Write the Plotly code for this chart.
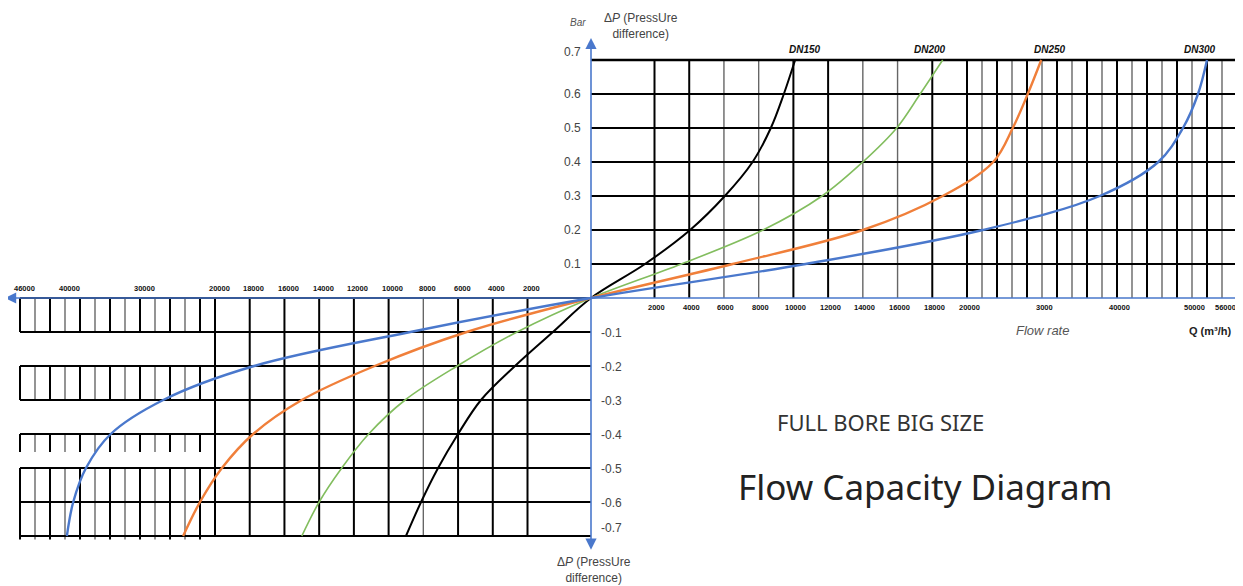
import numpy as np
import plotly.graph_objects as go

# ---------------- data ----------------
dp_levels = [0, 0.1, 0.2, 0.3, 0.4, 0.5, 0.6, 0.7]

series_names = ["DN150", "DN200", "DN250", "DN300"]
# flow rate Q (m3/h) at each pressure level, positive quadrant
dn150_q_right = [0, 1700, 4050, 6050, 7650, 8700, 9450, 10100]
dn200_q_right = [0, 3550, 8250, 11650, 14000, 15950, 17300, 18600]
dn250_q_right = [0, 6500, 14000, 18600, 23500, 26100, 28100, 29900]
dn300_q_right = [0, 10700, 22100, 37700, 45500, 48800, 50800, 52000]
# flow rate Q (m3/h) at each (negative) pressure level, mirrored quadrant
dn150_q_left = [0, 1200, 2720, 4680, 6000, 7150, 8130, 9000]
dn200_q_left = [0, 2600, 6050, 9050, 11150, 12700, 14000, 15000]
dn250_q_left = [0, 5500, 10800, 15000, 17800, 19600, 22000, 24250]
dn300_q_left = [0, 8750, 17750, 26900, 33900, 37200, 38900, 39750]

right_tick_values = [2000, 4000, 6000, 8000, 10000, 12000, 14000, 16000, 18000,
                     20000, 30000, 40000, 50000, 56000]
right_tick_text = ["2000", "4000", "6000", "8000", "10000", "12000", "14000", "16000",
                   "18000", "20000", "3000", "40000", "50000", "56000"]
left_tick_values = [2000, 4000, 6000, 8000, 10000, 12000, 14000, 16000, 18000,
                    20000, 30000, 40000, 46000]
left_tick_text = ["2000", "4000", "6000", "8000", "10000", "12000", "14000", "16000",
                  "18000", "20000", "30000", "40000", "46000"]
dp_tick_pos = [0.1, 0.2, 0.3, 0.4, 0.5, 0.6, 0.7]
dp_tick_pos_text = ["0.1", "0.2", "0.3", "0.4", "0.5", "0.6", "0.7"]
dp_tick_neg = [-0.1, -0.2, -0.3, -0.4, -0.5, -0.6, -0.7]
dp_tick_neg_text = ["-0.1", "-0.2", "-0.3", "-0.4", "-0.5", "-0.6", "-0.7"]

q_max_right = 56000
q_max_left = 46000
grid_step = 2000

# ---------------- piecewise flow-rate scale of the diagram ----------------
Q_BREAKS = [0, 2000, 20000, 60000]
POS_BREAKS = [0, 63.5, 376, 676]


def qpos(q):
    q = np.asarray(q, dtype=float)
    return np.sign(q) * np.interp(np.abs(q), Q_BREAKS, POS_BREAKS)


BLUE = "#4A78CC"
ORANGE = "#F07F3A"
GREEN = "#82BD5E"
BLACK = "#000000"
GRAY = "#666666"

fig = go.Figure()


def seg_trace(segs, color, width):
    xs, ys = [], []
    for (x0, y0, x1, y1) in segs:
        xs += [x0, x1, None]
        ys += [y0, y1, None]
    return go.Scatter(x=xs, y=ys, mode="lines", line=dict(color=color, width=width),
                      hoverinfo="skip", showlegend=False)


thick, thin = [], []
# right quadrant grid
for dp in dp_levels[1:]:
    thick.append((qpos(0), dp, qpos(q_max_right), dp))
for q in range(grid_step, q_max_right + 1, grid_step):
    k = q // grid_step
    if q <= 20000:
        is_thick = ((k - 1) // 2) % 2 == 0
    else:
        is_thick = (k % 2 == 0) or q == q_max_right
    (thick if is_thick else thin).append((qpos(q), 0, qpos(q), dp_levels[-1]))
# left quadrant grid
for dp in dp_levels:
    thick.append((qpos(-q_max_left), -dp, qpos(0), -dp))
far_segments = [(0, -0.1), (-0.2, -0.3), (-0.4, -0.453), (-0.5, -0.71)]
for q in range(grid_step, q_max_left + 1, grid_step):
    k = q // grid_step
    if q <= 20000:
        (thin if q == 8000 else thick).append((qpos(-q), 0, qpos(-q), -dp_levels[-1]))
    else:
        target = thick if k % 2 == 1 else thin
        for (a, b) in far_segments:
            target.append((qpos(-q), a, qpos(-q), b))

fig.add_trace(seg_trace(thin, GRAY, 1.4))
fig.add_trace(seg_trace(thick, BLACK, 2))
fig.add_trace(seg_trace([(qpos(0), 0.7, qpos(q_max_right), 0.7)], BLACK, 2.6))

# ---------------- curves ----------------
curve_defs = [
    (dn150_q_right, dn150_q_left, BLACK, 2.0),
    (dn200_q_right, dn200_q_left, GREEN, 1.6),
    (dn250_q_right, dn250_q_left, ORANGE, 2.4),
    (dn300_q_right, dn300_q_left, BLUE, 2.4),
]
for name, (qr, ql, col, w) in zip(series_names, curve_defs):
    x = list(qpos(-np.array(ql[::-1]))) + list(qpos(np.array(qr[1:])))
    y = [-d for d in dp_levels[::-1]] + dp_levels[1:]
    fig.add_trace(go.Scatter(x=x, y=y, mode="lines", name=name,
                             line=dict(color=col, width=w, shape="spline", smoothing=1.0),
                             hoverinfo="skip", showlegend=False))

# ---------------- annotations ----------------
ann = []
# axes with arrows
ann.append(dict(x=float(qpos(-48000)), y=0, ax=float(qpos(q_max_right)), ay=0,
                xref="x", yref="y", axref="x", ayref="y", text="", showarrow=True,
                arrowhead=2, arrowsize=1.4, arrowwidth=1.6, arrowcolor=BLUE))
ann.append(dict(x=0, y=0.765, ax=0, ay=-0.745, xref="x", yref="y", axref="x", ayref="y",
                text="", showarrow=True, arrowhead=2, startarrowhead=2, arrowside="end+start",
                arrowsize=1.4, startarrowsize=1.4, arrowwidth=1.6, arrowcolor=BLUE))

tick_font = dict(family="Liberation Sans, Arial", size=7.5, color="#111111")
for v, t in zip(right_tick_values, right_tick_text):
    last = v == right_tick_values[-1]
    ann.append(dict(x=float(qpos(v)), y=0, text="<b>%s</b>" % t, showarrow=False,
                    xanchor="right" if last else "center", yanchor="top", yshift=-3,
                    xshift=1 if last else 2, font=tick_font))
for v, t in zip(left_tick_values, left_tick_text):
    ann.append(dict(x=float(qpos(-v)), y=0, text="<b>%s</b>" % t, showarrow=False,
                    xanchor="center", yanchor="bottom", yshift=3, xshift=4, font=tick_font))

dp_font = dict(family="Liberation Sans, Arial", size=12, color="#444444")
for v, t in zip(dp_tick_pos, dp_tick_pos_text):
    ann.append(dict(x=0, y=v, text=t, showarrow=False, xanchor="right", yanchor="middle",
                    xshift=-8, yshift=8 if v == 0.7 else 0, font=dp_font))
for v, t in zip(dp_tick_neg, dp_tick_neg_text):
    ann.append(dict(x=0, y=v, text=t, showarrow=False, xanchor="left", yanchor="middle",
                    xshift=8, yshift=8 if v == -0.7 else -1, font=dp_font))

# series labels at the top of the curves
label_shift = [10, -13, 9, -7]
for name, (qr, _, _, _), xs in zip(series_names, curve_defs, label_shift):
    ann.append(dict(x=float(qpos(qr[-1])), y=0.7, text="<b><i>%s</i></b>" % name,
                    showarrow=False, xanchor="center", yanchor="bottom", yshift=3, xshift=xs,
                    font=dict(family="Liberation Sans, Arial", size=10, color="#111111")))

label_font = dict(family="Liberation Sans, Arial", size=12, color="#444444")
ann.append(dict(x=50, y=0.80, text="Δ<i>P</i> (PressUre<br>difference)", showarrow=False,
                xanchor="center", yanchor="middle", align="center", font=label_font))
ann.append(dict(x=3, y=-0.80, text="Δ<i>P</i> (PressUre<br>difference)", showarrow=False,
                xanchor="center", yanchor="middle", align="center", font=label_font))
ann.append(dict(x=-13, y=0.809, text="<i>Bar</i>", showarrow=False, xanchor="center",
                yanchor="middle",
                font=dict(family="Liberation Sans, Arial", size=10, color="#555555")))
ann.append(dict(x=451, y=-0.097, text="<i>Flow rate</i>", showarrow=False,
                xanchor="center", yanchor="middle",
                font=dict(family="Liberation Sans, Arial", size=13, color="#555555")))
ann.append(dict(x=619, y=-0.097, text="<b>Q (m³/h)</b>", showarrow=False,
                xanchor="center", yanchor="middle",
                font=dict(family="Liberation Sans, Arial", size=11, color="#222222")))
ann.append(dict(x=289, y=-0.365, text="FULL BORE BIG SIZE", showarrow=False,
                xanchor="center", yanchor="middle",
                font=dict(family="Noto Sans", size=22, color="#333333")))
ann.append(dict(x=334, y=-0.553, text="Flow Capacity Diagram", showarrow=False,
                xanchor="center", yanchor="middle",
                font=dict(family="Noto Sans", size=35, color="#222222")))

# the page body has an 8px margin: size the figure so the plot lands where the reference has it
fig.update_layout(
    width=1235, height=578,
    margin=dict(l=0, r=0, t=0, b=0, pad=0),
    paper_bgcolor="white", plot_bgcolor="white",
    xaxis=dict(range=[-583, 652], visible=False, fixedrange=True),
    yaxis=dict(range=[-(578 - 290) / 340, 290 / 340], visible=False, fixedrange=True),
    annotations=ann,
    showlegend=False,
)

fig.write_html("out.html")
